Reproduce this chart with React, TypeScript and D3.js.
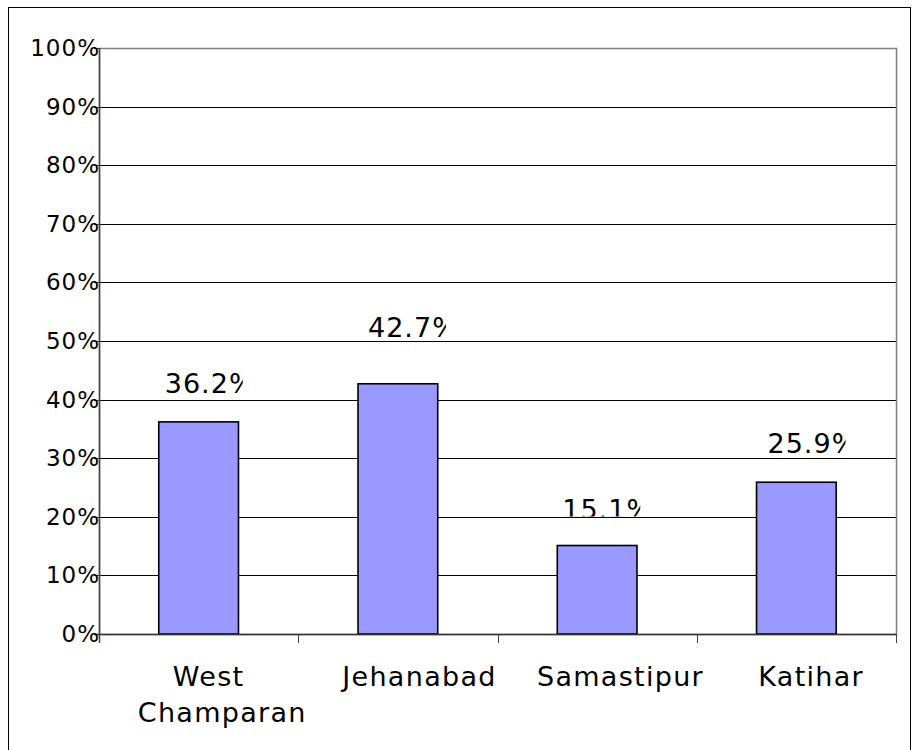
import React, { useEffect, useRef } from "react";
import * as d3 from "d3";

const categories: string[][] = [["West", "Champaran"], ["Jehanabad"], ["Samastipur"], ["Katihar"]];
const values: number[] = [36.2, 42.7, 15.1, 25.9];
const labels: string[] = ["36.2%", "42.7%", "15.1%", "25.9%"];
const yTicks: number[] = [0, 10, 20, 30, 40, 50, 60, 70, 80, 90, 100];
// label placement offsets (as in the original, labels were moved manually)
const labelDx: number[] = [6, 10, 5, 11];
const labelDy: number[] = [29, 47, 27, 29.5];
const labelClipBottom: number[] = [6, 6, -2, 6];

const W = 912;
const H = 750;
const plot = { left: 99, right: 896, top: 48, bottom: 634 };
const FONT = "'DejaVu Sans', Verdana, sans-serif";

export default function App() {
  const ref = useRef<SVGSVGElement | null>(null);

  useEffect(() => {
    const svg = d3.select(ref.current);
    svg.selectAll("*").remove();

    const x = d3
      .scaleBand<number>()
      .domain(values.map((_, i) => i))
      .range([plot.left, plot.right])
      .paddingInner(0)
      .paddingOuter(0);
    const y = d3.scaleLinear().domain([0, 100]).range([plot.bottom, plot.top]);
    const barW = x.bandwidth() * 0.4;

    svg.append("rect").attr("x", 0).attr("y", 0).attr("width", W).attr("height", H).attr("fill", "#fff");
    // outer chart border
    svg
      .append("rect")
      .attr("x", 8.5)
      .attr("y", 7.5)
      .attr("width", 902)
      .attr("height", 760)
      .attr("fill", "none")
      .attr("stroke", "#000")
      .attr("stroke-width", 1);

    // gridlines
    svg
      .append("g")
      .selectAll("line")
      .data(yTicks.filter((t) => t > 0 && t < 100))
      .join("line")
      .attr("x1", plot.left)
      .attr("x2", plot.right)
      .attr("y1", (d) => Math.round(y(d)) + 0.5)
      .attr("y2", (d) => Math.round(y(d)) + 0.5)
      .attr("stroke", "#000")
      .attr("stroke-width", 1);

    // plot area border (gray)
    svg
      .append("rect")
      .attr("x", plot.left + 0.5)
      .attr("y", plot.top + 0.5)
      .attr("width", plot.right - plot.left)
      .attr("height", plot.bottom - plot.top)
      .attr("fill", "none")
      .attr("stroke", "#808080")
      .attr("stroke-width", 1.5);

    // bars
    svg
      .append("g")
      .selectAll("rect")
      .data(values)
      .join("rect")
      .attr("x", (_, i) => (x(i) as number) + (x.bandwidth() - barW) / 2)
      .attr("y", (d) => y(d))
      .attr("width", barW)
      .attr("height", (d) => y(0) - y(d))
      .attr("fill", "#9999FF")
      .attr("stroke", "#000")
      .attr("stroke-width", 1.6);

    // axes
    svg
      .append("line")
      .attr("x1", plot.left - 5)
      .attr("x2", plot.right)
      .attr("y1", plot.bottom + 0.5)
      .attr("y2", plot.bottom + 0.5)
      .attr("stroke", "#333")
      .attr("stroke-width", 1.5);
    svg
      .append("line")
      .attr("x1", plot.left + 0.5)
      .attr("x2", plot.left + 0.5)
      .attr("y1", plot.top)
      .attr("y2", plot.bottom + 9)
      .attr("stroke", "#444")
      .attr("stroke-width", 1.5);

    // y ticks
    svg
      .append("g")
      .selectAll("line")
      .data(yTicks)
      .join("line")
      .attr("x1", plot.left - 5)
      .attr("x2", plot.left)
      .attr("y1", (d) => Math.round(y(d)) + 0.5)
      .attr("y2", (d) => Math.round(y(d)) + 0.5)
      .attr("stroke", "#333");

    // x ticks at category boundaries
    const bounds = values.map((_, i) => x(i) as number).concat([plot.right]);
    svg
      .append("g")
      .selectAll("line")
      .data(bounds)
      .join("line")
      .attr("x1", (d) => Math.round(d) + 0.5)
      .attr("x2", (d) => Math.round(d) + 0.5)
      .attr("y1", plot.bottom)
      .attr("y2", plot.bottom + 9)
      .attr("stroke", "#444");

    // y labels
    svg
      .append("g")
      .selectAll("text")
      .data(yTicks)
      .join("text")
      .attr("x", plot.left + 1)
      .attr("y", (d) => y(d) + 8)
      .attr("text-anchor", "end")
      .attr("font-family", FONT)
      .attr("font-size", 23)
      .attr("letter-spacing", 1)
      .attr("fill", "#000")
      .text((d) => `${d}%`);

    // category labels
    const cg = svg.append("g");
    categories.forEach((lines, i) => {
      const cx = (x(i) as number) + x.bandwidth() / 2;
      lines.forEach((ln, j) => {
        const t = cg
          .append("text")
          .attr("y", 686 + j * 36)
          .attr("font-family", FONT)
          .attr("font-size", 27)
          .attr("letter-spacing", 1.3)
          .attr("fill", "#000")
          .text(ln);
        const len = (t.node() as SVGTextElement).getComputedTextLength();
        t.attr("x", cx - 0.36 * len);
      });
    });

    // data labels (clipped boxes)
    const defs = svg.append("defs");
    values.forEach((v, i) => {
      const bx = (x(i) as number) + (x.bandwidth() - barW) / 2;
      const tx = bx + labelDx[i];
      const base = y(v) - labelDy[i];
      const id = `lblclip${i}`;
      defs
        .append("clipPath")
        .attr("id", id)
        .append("rect")
        .attr("x", tx - 3)
        .attr("y", base - 32)
        .attr("width", 81)
        .attr("height", 32 + labelClipBottom[i]);
      svg
        .append("text")
        .attr("clip-path", `url(#${id})`)
        .attr("x", tx)
        .attr("y", base)
        .attr("font-family", FONT)
        .attr("font-size", 27)
        .attr("letter-spacing", 1)
        .attr("fill", "#000")
        .text(labels[i]);
    });
  }, []);

  return (
    <svg
      ref={ref}
      width={W}
      height={H}
      style={{ position: "absolute", left: 0, top: 0, display: "block" }}
    />
  );
}
